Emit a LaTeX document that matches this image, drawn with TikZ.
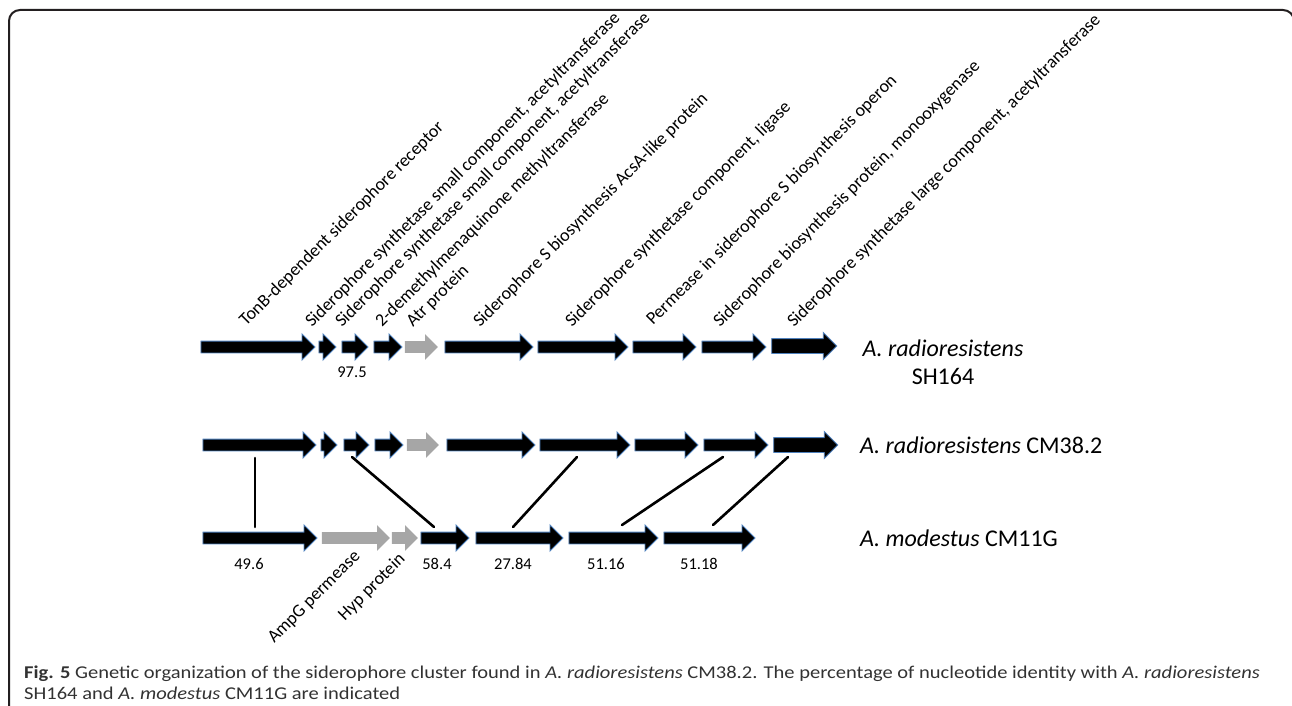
\documentclass[tikz,border=0pt]{standalone}
\usepackage{fontspec}
\setmainfont{Carlito}
\newfontfamily\capfont[FakeStretch=1.14]{Carlito}
\usetikzlibrary{shapes.arrows,calc}
\definecolor{arrowblue}{RGB}{79,129,189}
\definecolor{genegray}{RGB}{166,166,166}
\definecolor{framecol}{RGB}{35,31,32}
\definecolor{capcol}{RGB}{50,50,50}
\newcommand{\gene}[5][]{\node[gene,#1,minimum height=#4pt] (#2) at (#3,#5) {};}
\begin{document}
\begin{tikzpicture}[x=1pt,y=-1pt,
  gene/.style={single arrow, single arrow head extend=7pt, minimum width=25pt,
    inner xsep=0pt, inner ysep=5.5pt, fill=black, draw=arrowblue, line width=0.9pt,
    outer sep=0pt},
  graygene/.style={fill=genegray, draw=none},
  thickgene/.style={inner ysep=7pt, single arrow head extend=6pt},
  glabel/.style={rotate=45, anchor=base west, inner sep=0pt, font=\fontsize{18}{20}\selectfont},
  blabel/.style={rotate=45, anchor=base east, inner sep=0pt, font=\fontsize{18}{20}\selectfont},
  pct/.style={font=\fontsize{16.5}{19}\selectfont, inner sep=0pt},
  species/.style={font=\fontsize{24}{28}\selectfont, inner sep=0pt},
  link/.style={line width=2.6pt, line cap=round}]
\useasboundingbox (0,0) rectangle (1292,706);
% frame
\draw[framecol, line width=2pt, rounded corners=11pt] (9,720) -- (9,10) -- (1294,10) -- (1294,720);
% row 1: A. radioresistens SH164
\gene{r1a1}{255}{114}{347}
\gene{r1a2}{324.5}{17}{347}
\gene{r1a3}{352}{26}{347}
\gene{r1a4}{385}{28}{347}
\gene[graygene]{r1a5}{418.5}{33}{347}
\gene{r1a6}{486}{88}{347}
\gene{r1a7}{580}{90}{347}
\gene{r1a8}{661.5}{63}{347}
\gene{r1a9}{731}{64}{347}
\gene[thickgene]{r1a10}{800.5}{65}{346}
% row 2: A. radioresistens CM38.2
\gene{r2a1}{256.5}{113}{445}
\gene{r2a2}{326}{16}{445}
\gene{r2a3}{353.5}{25}{445}
\gene{r2a4}{386}{28}{445}
\gene[graygene]{r2a5}{420}{32}{445}
\gene{r2a6}{488}{88}{445}
\gene{r2a7}{582}{90}{445}
\gene{r2a8}{663.5}{63}{445}
\gene{r2a9}{733}{64}{445}
\gene[thickgene]{r2a10}{802}{64}{445}
% row 3: A. modestus CM11G
\gene{r3a1}{257}{114}{538}
\gene[graygene]{r3a2}{353}{68}{538}
\gene[graygene]{r3a3}{402}{26}{538}
\gene{r3a4}{442}{48}{538}
\gene{r3a5}{516.5}{87}{538}
\gene{r3a6}{610.5}{89}{538}
\gene{r3a7}{706.5}{91}{538}
% links
\draw[link] ($(r2a1.center)+(-1.5,13)$) -- ($(r3a1.center)+(-2,-11)$);
\draw[link] ($(r2a3.center)+(-1.5,12)$) -- ($(r3a4.center)+(-8,-11)$);
\draw[link] ($(r2a7.center)+(-5,12)$) -- ($(r3a5.center)+(-3.5,-11)$);
\draw[link] ($(r2a9.center)+(-10,12)$) -- ($(r3a6.center)+(11.5,-13)$);
\draw[link] ($(r2a10.center)+(-14,12)$) -- ($(r3a7.center)+(6.5,-13)$);
% gene labels
\node[glabel] (l1) at (246,327) {TonB-dependent siderophore receptor};
\node[glabel] (l2) at (312,328) {Siderophore synthetase small component, acetyltransferase};
\node[glabel] (l3) at (342,328) {Siderophore synthetase small component, acetyltransferase};
\node[glabel] (l4) at (382,328) {2-demethylmenaquinone methyltransferase};
\node[glabel] (l5) at (413,328) {Atr protein};
\node[glabel] (l6) at (480,328) {Siderophore S biosynthesis AcsA-like protein};
\node[glabel] (l7) at (572,328) {Siderophore synthetase component, ligase};
\node[glabel] (l8) at (653,326) {Permease in siderophore S biosynthesis operon};
\node[glabel] (l9) at (720,328) {Siderophore biosynthesis protein, monooxygenase};
\node[glabel] (l10) at (794,328) {Siderophore synthetase large component, acetyltransferase};
\node[blabel] (l11) at (361,557) {AmpG permease};
\node[blabel] (l12) at (406,560) {Hyp protein};
% percentages
\node[pct] (p1) at (352,372) {97.5};
\node[pct] (p2) at (249,564) {49.6};
\node[pct] (p3) at (437,564) {58.4};
\node[pct] (p4) at (513,564) {27.84};
\node[pct] (p5) at (606,564) {51.16};
\node[pct] (p6) at (699,564) {51.18};
% species
\node[species, align=center] (s1) at (943,362) {\textit{A. radioresistens}\\[0pt]SH164};
\node[species, anchor=west] (s2) at (860,445) {\textit{A. radioresistens} CM38.2};
\node[species, anchor=west] (s3) at (860,538) {\textit{A. modestus} CM11G};
% caption
\node[anchor=base west, align=left, inner sep=0pt, text=capcol,
  font=\capfont\fontsize{18}{21}\selectfont] (cap) at (24,699)
  {\textbf{Fig. 5} Genetic organization of the siderophore cluster found in \textit{A. radioresistens} CM38.2. The percentage of nucleotide identity with \textit{A. radioresistens}\\
   SH164 and \textit{A. modestus} CM11G are indicated};
\end{tikzpicture}
\end{document}
